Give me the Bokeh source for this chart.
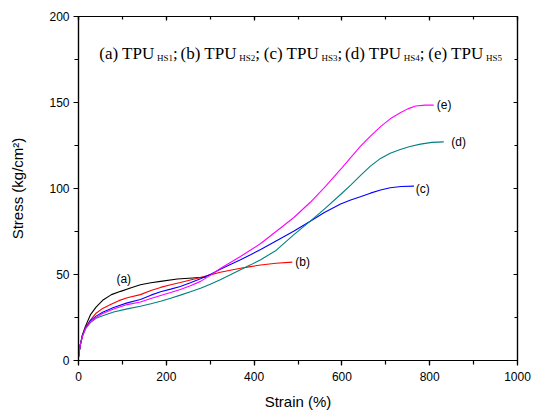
from bokeh.plotting import figure
from bokeh.models import Range1d, SingleIntervalTicker, LinearAxis
from bokeh.core.properties import value
from bokeh.embed import file_html
from bokeh.resources import INLINE

# ---- data ----
a_x = [0, 4, 9, 16, 27, 40, 55, 75, 96, 120, 141, 165, 187, 225, 260, 290]
a_y = [2, 9, 15, 20, 26.5, 31, 35, 38.3, 40.2, 42.3, 44, 45.2, 46, 47.4, 48, 48.5]

b_x = [0, 4, 9, 16, 27, 40, 55, 73, 92, 111, 141, 165, 187, 210, 232, 255, 278, 300,
       323, 346, 369, 392, 415, 450, 487]
b_y = [2, 9, 14.5, 19, 23.5, 27.5, 30.3, 32.5, 34.8, 36.5, 38.3, 40.7, 42.5, 44, 45.3,
       46.8, 48.3, 49.8, 51.3, 52.5, 53.6, 54.6, 55.5, 56.5, 57.2]

c_x = [0, 4, 9, 16, 27, 40, 55, 80, 111, 141, 165, 187, 210, 232, 255, 278, 300, 323,
       346, 369, 392, 415, 450, 490, 528, 560, 597, 620, 642, 665, 688, 710, 735, 764]
c_y = [2, 9, 14.5, 19, 23, 25.8, 28, 30.8, 33.5, 35.5, 38, 40, 41.5, 43, 45.2, 47.5, 50,
       53, 55.8, 58.6, 61.5, 64.5, 69.5, 75.2, 81, 86, 91, 93.3, 95.2, 97.3, 99.1, 100.4,
       101.2, 101.4]

d_x = [0, 4, 9, 16, 27, 40, 55, 80, 111, 141, 165, 187, 210, 232, 255, 278, 300, 323,
       346, 369, 392, 415, 450, 490, 528, 560, 597, 620, 642, 665, 688, 710, 733, 755,
       779, 805, 832]
d_y = [2, 9, 14, 18.5, 22, 24.5, 26, 28.2, 30, 31.5, 33, 34.5, 36.2, 38, 40, 42, 44.4,
       47, 49.8, 52.8, 55.6, 58.6, 64, 73, 81, 88, 96.5, 102, 107.5, 113, 117.5, 120.5,
       122.7, 124.4, 125.8, 126.8, 127.1]

e_x = [0, 4, 9, 16, 27, 40, 55, 80, 111, 141, 165, 187, 210, 232, 255, 278, 300, 323,
       346, 369, 392, 415, 450, 490, 528, 560, 600, 620, 642, 665, 688, 710, 733, 750,
       768, 790, 809]
e_y = [2, 9, 14, 18.5, 22.5, 25, 27.3, 30, 32.5, 34, 36, 37.8, 39.5, 41.3, 43.5, 46,
       49.5, 53.5, 57, 60.5, 64.2, 68, 75, 83, 92, 100.5, 112, 118, 124.5, 130.5, 136,
       140.5, 144, 146.3, 148, 148.5, 148.5]

series_names = ["(a)", "(b)", "(c)", "(d)", "(e)"]
series_colors = ["black", "#ff0000", "#0000ff", "#008080", "#ff00ff"]

x_axis_label = "Strain (%)"
y_axis_label = "Stress (kg/cm\u00b2)"

title_groups = ["(a) TPU", "(b) TPU", "(c) TPU", "(d) TPU", "(e) TPU"]
title_subs = ["HS1", "HS2", "HS3", "HS4", "HS5"]

# ---- layout constants (pixel geometry of the frame) ----
W, H = 533, 412
LEFT, RIGHT, TOP, BOTTOM = 78, 16, 16, 51
FW = W - LEFT - RIGHT
FH = H - TOP - BOTTOM

def dx(px):
    return (px - LEFT) * 1000.0 / FW

def dy(py):
    return (H - BOTTOM - py) * 200.0 / FH

p = figure(width=W, height=H, x_range=Range1d(0, 1000), y_range=Range1d(0, 200),
           output_backend="svg", toolbar_location=None,
           min_border_left=LEFT, min_border_right=RIGHT, min_border_top=TOP,
           min_border_bottom=BOTTOM)
p.xgrid.visible = False
p.ygrid.visible = False
p.outline_line_color = "black"
p.outline_line_width = 1.2
p.background_fill_color = "white"
p.border_fill_color = "white"

xt = SingleIntervalTicker(interval=200, num_minor_ticks=2)
yt = SingleIntervalTicker(interval=50, num_minor_ticks=2)

for ax, t in ((p.xaxis[0], xt), (p.yaxis[0], yt)):
    ax.ticker = t
    ax.axis_line_width = 1.2
    ax.axis_line_color = "black"
    ax.major_tick_out = 5
    ax.major_tick_in = 0
    ax.minor_tick_out = 4
    ax.minor_tick_in = 0
    ax.major_tick_line_width = 1.2
    ax.minor_tick_line_width = 1.2
    ax.major_label_text_font = "Liberation Sans"
    ax.major_label_text_font_size = "12px"
    ax.major_label_text_color = "black"
    ax.axis_label_text_font = "Liberation Sans"
    ax.axis_label_text_font_size = "15px"
    ax.axis_label_text_font_style = "normal"
    ax.axis_label_text_color = "black"

p.xaxis[0].axis_label = x_axis_label
p.xaxis[0].major_label_standoff = 6
p.xaxis[0].axis_label_standoff = 9
p.yaxis[0].axis_label = y_axis_label
p.yaxis[0].major_label_standoff = 4
p.yaxis[0].axis_label_standoff = 20

top_ax = LinearAxis(ticker=SingleIntervalTicker(interval=200, num_minor_ticks=2))
right_ax = LinearAxis(ticker=SingleIntervalTicker(interval=50, num_minor_ticks=2))
for ax in (top_ax, right_ax):
    ax.major_label_text_font_size = "1px"
    ax.major_label_text_color = None
    ax.major_tick_in = 4
    ax.major_tick_out = 0
    ax.minor_tick_in = 3
    ax.minor_tick_out = 0
    ax.axis_line_width = 1.2
    ax.major_tick_line_width = 1.2
    ax.minor_tick_line_width = 1.2
    ax.major_label_standoff = 0
p.add_layout(top_ax, "above")
p.add_layout(right_ax, "right")

# curves
xs_all = [a_x, b_x, c_x, d_x, e_x]
ys_all = [a_y, b_y, c_y, d_y, e_y]
for xs, ys, col in zip(xs_all, ys_all, series_colors):
    p.line(xs, ys, line_color=col, line_width=1.1)

# curve labels
lab_font = value("Liberation Sans")
p.text(x=[103], y=[47.4], text=[series_names[0]], text_font=lab_font, text_font_size="12px",
       text_align="center", text_baseline="middle", text_color="black")
lab_x = [b_x[-1] + 7, c_x[-1] + 4, d_x[-1] + 17, e_x[-1] + 7]
lab_y = [b_y[-1], c_y[-1] - 1.5, d_y[-1], e_y[-1]]
p.text(x=lab_x, y=lab_y, text=series_names[1:], text_font=lab_font, text_font_size="12px",
       text_align="left", text_baseline="middle", text_color="black")

# title with subscripts
tpu_end_px = [154, 236.25, 318.5, 400.75, 483]
serif = value("Liberation Serif")
p.text(x=[dx(v) for v in tpu_end_px], y=[dy(53)] * 5, text=title_groups, text_font=serif,
       text_font_size="17px", text_align="right", text_baseline="alphabetic", text_color="black")
p.text(x=[dx(v + 2.5) for v in tpu_end_px], y=[dy(57.5)] * 5, text=title_subs, text_font=serif,
       text_font_size="9px", text_align="left", text_baseline="alphabetic", text_color="black")
p.text(x=[dx(v + 18.5) for v in tpu_end_px[:-1]], y=[dy(53)] * 4, text=[";"] * 4, text_font=serif,
       text_font_size="17px", text_align="left", text_baseline="alphabetic", text_color="black")

open("out.html", "w").write(file_html(p, INLINE))
